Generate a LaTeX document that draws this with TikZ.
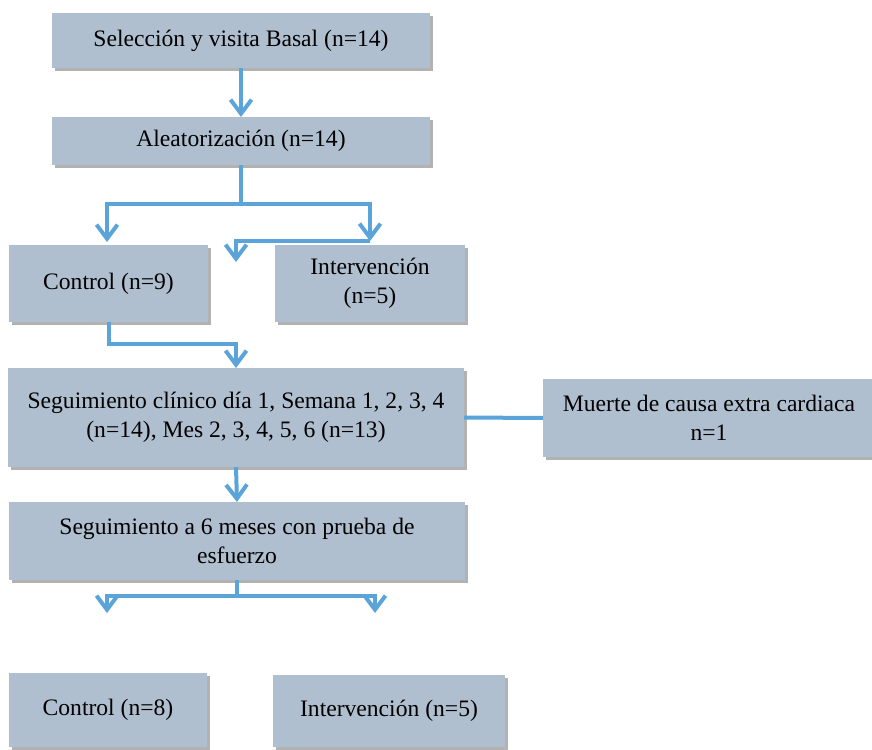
\documentclass[tikz,border=0pt]{standalone}
\usepackage{fontspec}
\setmainfont{Liberation Serif}
\usetikzlibrary{arrows.meta,shadows}
\definecolor{boxfill}{RGB}{176,191,207}
\definecolor{linec}{RGB}{91,164,217}
\begin{document}
\begin{tikzpicture}[x=1pt,y=-1pt,
  box/.style={fill=boxfill, draw=none, inner sep=0pt, outer sep=0pt, anchor=north west,
    align=center, font=\fontsize{23.6}{29.5}\selectfont,
    drop shadow={shadow xshift=3pt, shadow yshift=-3pt, fill=black!60, opacity=0.5}},
  conn/.style={draw=linec, line width=4pt},
  arr/.style={conn, -{Straight Barb[length=14pt, width=21pt]}}]
\useasboundingbox (0,0) rectangle (872,749);
\node[box, minimum width=378pt, minimum height=55pt] (sel) at (52,13) {Selección y visita Basal (n=14)};
\node[box, minimum width=378pt, minimum height=48pt] (alea) at (52,117) {Aleatorización (n=14)};
\node[box, minimum width=199pt, minimum height=77pt] (ctrl1) at (9,245) {Control (n=9)};
\node[box, minimum width=190pt, minimum height=77pt] (int1) at (275,245) {Intervención\\(n=5)};
\node[box, minimum width=456pt, minimum height=99pt] (seg) at (8,368) {Seguimiento clínico día 1, Semana 1, 2, 3, 4\\(n=14), Mes 2, 3, 4, 5, 6 (n=13)};
\node[box, minimum width=332pt, minimum height=78pt] (muerte) at (543,379) {Muerte de causa extra cardiaca\\n=1};
\node[box, minimum width=456pt, minimum height=78pt] (seg6) at (9,502) {Seguimiento a 6 meses con prueba de\\esfuerzo};
\node[box, minimum width=198pt, minimum height=74pt] (ctrl2) at (9,673) {Control (n=8)};
\node[box, minimum width=232pt, minimum height=72pt] (int2) at (273,675) {Intervención (n=5)};

\coordinate (l1) at (107,204);
\coordinate (l1e) at (107,242);
\coordinate (r1) at (370,204);
\coordinate (r1e) at (370,241);
\coordinate (m1e) at (236,262);
\coordinate (c1) at (107,344);
\coordinate (l2) at (107,596);
\coordinate (l2e) at (107,613);
\coordinate (r2) at (375,596);
\coordinate (r2e) at (375,613);

\draw[arr] (sel.south) -- (alea.north);
\draw[arr] (alea.south) |- (l1) -- (l1e);
\draw[arr] (alea.south) |- (r1) -- (r1e);
\draw[arr] (r1e) -| (m1e);
\draw[arr] (ctrl1.south) |- (c1) -| (seg.north);
\draw[conn] (seg.east) -- (muerte.west);
\draw[arr] (seg.south) -- (seg6.north);
\draw[arr] (seg6.south) |- (l2) -- (l2e);
\draw[arr] (seg6.south) |- (r2) -- (r2e);
\end{tikzpicture}
\end{document}
